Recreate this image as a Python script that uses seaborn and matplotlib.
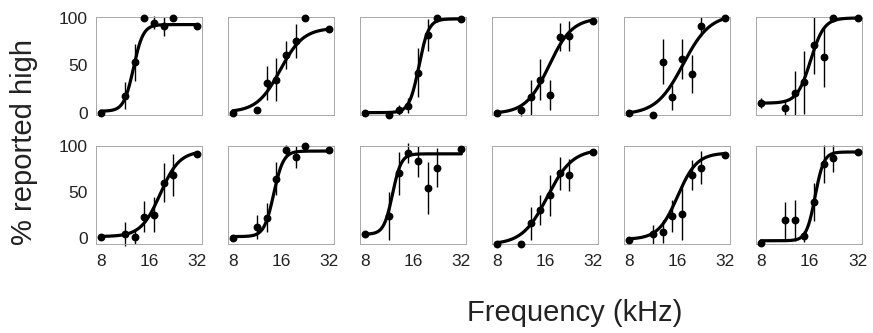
import numpy as np
import pandas as pd
import matplotlib
matplotlib.use("Agg")
import matplotlib.pyplot as plt
import seaborn as sns

# ---------------- data ----------------
freqs = [8, 11.3, 13.0, 14.9, 17.1, 19.7, 22.6, 32]

pct = [
    [0, 18, 53, 100, 95, 91, 100, 92],
    [0, 2.5, 31, 35, 61, 76, 100, 88],
    [0, -2, 3, 7.5, 42, 82, 100, 99],
    [0, 2.5, 16, 35, 19, 80, 81, 97],
    [0, -2, 54, 16, 57, 41, 91, 100],
    [10, 5, 21, 32, 71, 59, 100, 100],
    [1.5, 4, 1.5, 23, 25, 60, 68, 91],
    [0, 12, 22, 64, 95, 88, 100, 95],
    [4, 24, 70, 92, 83, 54, 76, 96],
    [-6, -6, 16, 30, 46, 70, 68, 93],
    [-2, 4, 7, 24, 26, 68, 76, 90],
    [-5, 19, 19, 2, 39, 80, 86, 93],
]
err = [
    [0, 14, 20, 0, 7, 10, 0, 0],
    [0, 0, 18, 23, 15, 18, 0, 0],
    [0, 0, 5, 8, 26, 17, 0, 0],
    [0, 6, 18, 22, 16, 15, 16, 0],
    [0, 0, 24, 13, 21, 20, 10, 0],
    [5, 8, 23, 33, 30, 32, 0, 0],
    [0, 13, 8, 17, 19, 21, 23, 0],
    [0, 13, 16, 18, 6, 12, 0, 0],
    [3, 26, 23, 11, 17, 28, 21, 0],
    [0, 0, 18, 16, 22, 18, 17, 0],
    [0, 10, 12, 17, 28, 16, 18, 0],
    [0, 20, 22, 6, 21, 21, 15, 0],
]

# sigmoid fit parameters: lower, upper, midpoint (kHz), width (octaves)
fit_lo = [1.5, 0.5, 0, -1, -2, 10, 1.5, 1.5, 4, -7, -1.5, -3]
fit_hi = [93, 89.5, 99, 100, 104, 100, 94, 94, 91, 96, 92, 93]
fit_mid = [12.8, 15.8, 17.4, 16.9, 17.4, 16.3, 18.8, 14.4, 11.9, 16.5, 16.1, 17.4]
fit_width = [0.10, 0.24, 0.10, 0.24, 0.28, 0.14, 0.20, 0.10, 0.09, 0.26, 0.20, 0.09]

xticks = [8, 16, 32]
yticks = [0, 50, 100]
xlabel = "Frequency (kHz)"
ylabel = "% reported high"

# ---------------- style ----------------
sns.set_theme(style="white")
plt.rcParams["font.family"] = ["Liberation Sans", "DejaVu Sans"]

fig, axes = plt.subplots(2, 6, figsize=(8.73, 3.33), dpi=100)
fig.subplots_adjust(left=0.110, right=0.9877, top=0.9489, bottom=0.2673,
                    wspace=0.246, hspace=0.305)

spine_col = "#a8a8a8"
ylims = [(-3, 101), (-6.5, 100)]

for i, ax in enumerate(axes.flat):
    r, c = divmod(i, 6)
    df = pd.DataFrame({"f": freqs, "p": pct[i], "e": err[i]})
    xs = np.geomspace(8, 32, 300)
    curve = fit_lo[i] + (fit_hi[i] - fit_lo[i]) / (
        1 + np.exp(-(np.log2(xs) - np.log2(fit_mid[i])) / fit_width[i]))
    cdf = pd.DataFrame({"f": xs, "p": curve})

    ax.set_xscale("log", base=2)
    eb = df[df["e"] > 0]
    ax.vlines(eb["f"], eb["p"] - eb["e"], eb["p"] + eb["e"], color="black",
              linewidth=1.0, zorder=2, clip_on=False)
    sns.lineplot(data=cdf, x="f", y="p", ax=ax, color="black", linewidth=2.3,
                 zorder=3, clip_on=False)
    sns.scatterplot(data=df, x="f", y="p", ax=ax, color="black", s=32,
                    edgecolor="black", linewidth=0, zorder=4, clip_on=False)

    ax.set_xlim(8 * 2 ** -0.098, 32 * 2 ** 0.098)
    ax.set_ylim(*ylims[r])
    ax.set_xticks(xticks)
    ax.set_yticks(yticks)
    ax.minorticks_off()
    ax.tick_params(axis="both", which="both", direction="in", length=2.5,
                   width=0.6, color=spine_col, labelsize=12.5,
                   labelcolor="#222222")
    ax.tick_params(axis="x", pad=7)
    ax.tick_params(axis="y", pad=6)
    if r == 1:
        ax.set_xticklabels([str(t) for t in xticks])
    else:
        ax.set_xticklabels([])
    if c == 0:
        ax.set_yticklabels([str(t) for t in yticks])
    else:
        ax.set_yticklabels([])
    ax.set_xlabel("")
    ax.set_ylabel("")
    for s in ax.spines.values():
        s.set_color(spine_col)
        s.set_linewidth(0.7)
    ax.set_facecolor("white")

fig.text(0.6586, 0.06, xlabel, ha="center", va="center", fontsize=21,
         color="#222222")
fig.text(0.0275, 0.575, ylabel, ha="center", va="center", rotation=90,
         fontsize=21, color="#222222")

fig.savefig("out.png", dpi=100, facecolor="white")
